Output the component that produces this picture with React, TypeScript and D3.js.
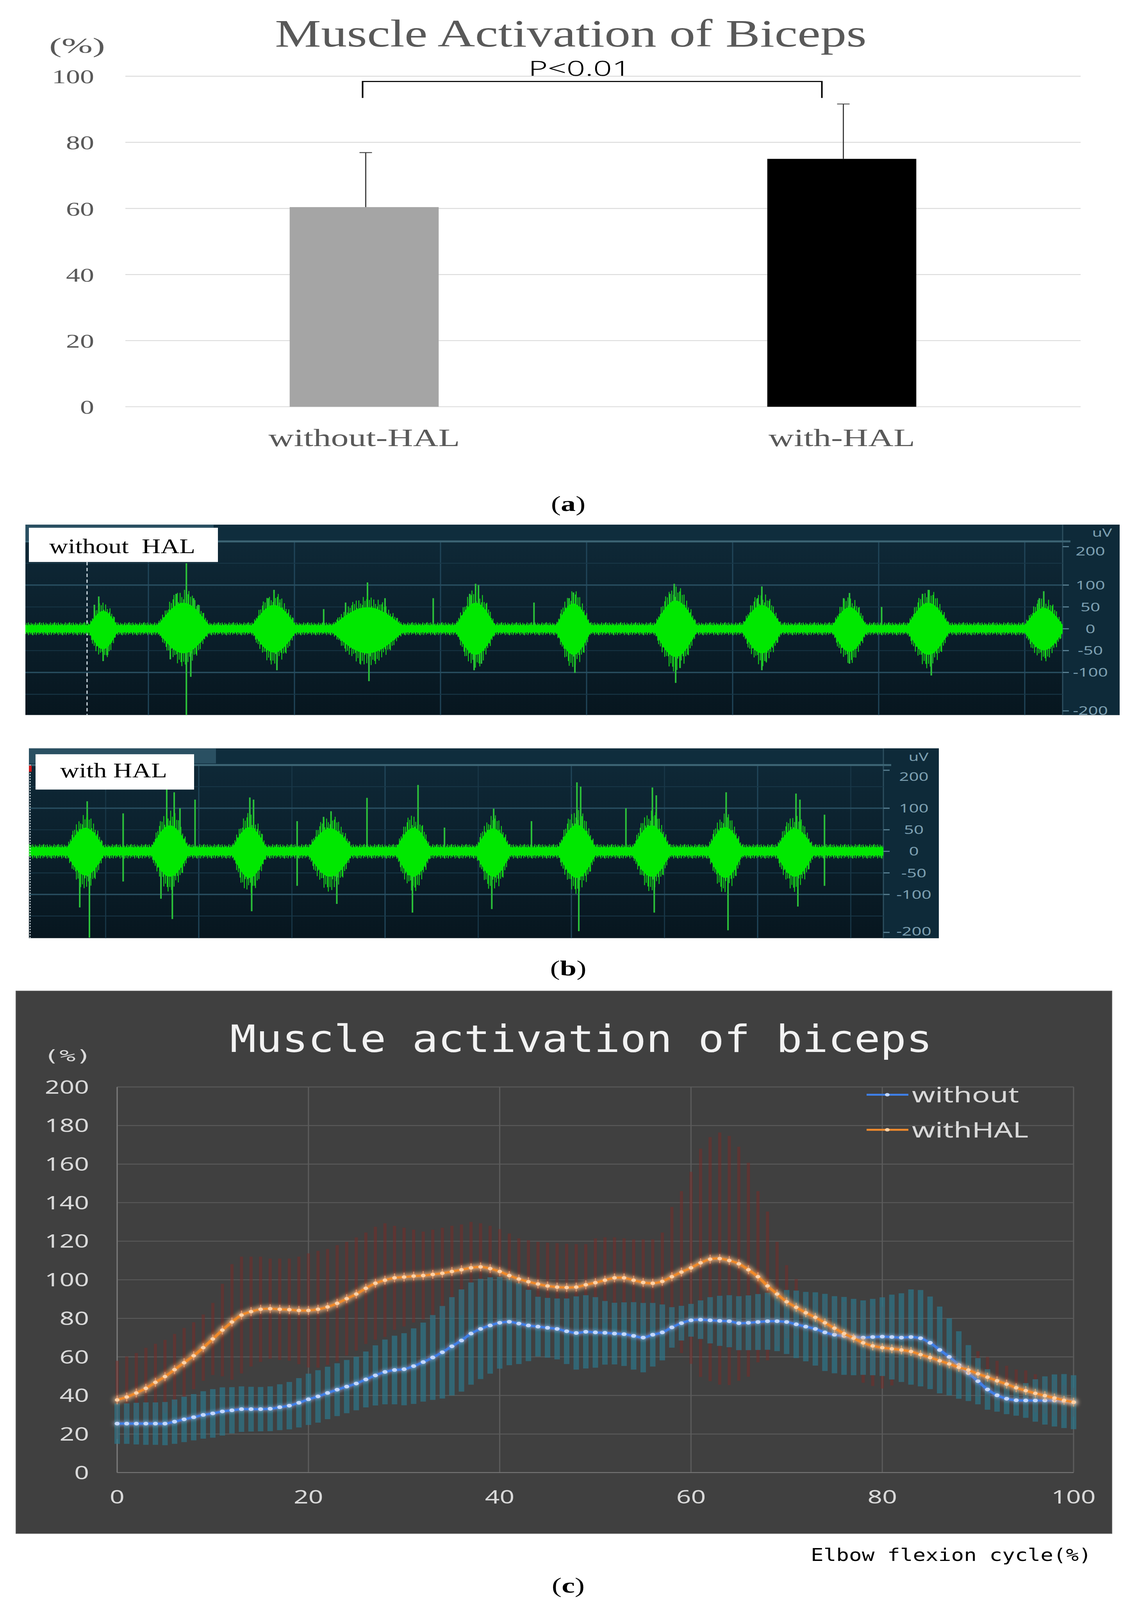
import React from "react";
import * as d3 from "d3";

const W = 2873;
const H = 5751;

// ---------- Panel (a) data ----------
const barCategories = ["without-HAL", "with-HAL"];
const barMeans = [60.4, 75.0];
const barSDs = [16.5, 16.6];
const barColors = ["#a5a5a5", "#000000"];
const barTicks = [0, 20, 40, 60, 80, 100];
const sigLabel = "P<0.01";

// ---------- Panel (b) data (uV, seconds) ----------
const emgTickValues = [200, 100, 50, 0, -50, -100, -200];
const emgGridValues = [150, 100, 50, 0, -50, -100, -150];
const topBursts = [
  { t: 0.69, hw: 0.12, up: 48, dn: -55 },
  { t: 1.24, hw: 0.21, up: 70, dn: -66 },
  { t: 1.86, hw: 0.18, up: 64, dn: -64 },
  { t: 2.5, hw: 0.29, up: 58, dn: -66 },
  { t: 3.24, hw: 0.16, up: 70, dn: -70 },
  { t: 3.91, hw: 0.14, up: 68, dn: -70 },
  { t: 4.61, hw: 0.17, up: 76, dn: -76 },
  { t: 5.2, hw: 0.16, up: 64, dn: -66 },
  { t: 5.8, hw: 0.14, up: 58, dn: -62 },
  { t: 6.34, hw: 0.17, up: 70, dn: -70 },
  { t: 7.13, hw: 0.16, up: 56, dn: -58 },
];
const topSpikes: [number, number][] = [
  [0.63, 55], [0.66, 74], [0.69, -74], [0.72, -60],
  [1.15, -70], [1.19, 80], [1.26, 150], [1.26, -198], [1.29, -110], [1.31, 70], [1.34, 55],
  [1.82, 70], [1.86, 89], [1.88, -95], [1.9, 60],
  [2.2, 45], [2.35, 60], [2.45, -80], [2.5, 106], [2.51, -120], [2.62, 70],
  [2.95, 70], [3.2, 80], [3.24, 103], [3.26, 100], [3.23, -95], [3.28, -80],
  [3.64, 60], [3.88, 70], [3.91, 83], [3.92, -101],
  [4.57, 80], [4.6, 103], [4.61, -124], [4.64, -90],
  [5.17, 70], [5.2, 97], [5.2, -95], [5.23, -75],
  [5.76, 70], [5.8, 82], [5.8, -80],
  [6.02, 50], [6.3, 80], [6.34, 89], [6.36, -107],
  [7.1, 70], [7.13, 86], [7.14, -62],
];
const botBursts = [
  { t: 0.392, hw: 0.12, up: 78, dn: -80 },
  { t: 0.845, hw: 0.12, up: 86, dn: -84 },
  { t: 1.272, hw: 0.11, up: 80, dn: -88 },
  { t: 1.705, hw: 0.14, up: 76, dn: -84 },
  { t: 2.152, hw: 0.11, up: 78, dn: -84 },
  { t: 2.58, hw: 0.11, up: 76, dn: -84 },
  { t: 3.03, hw: 0.12, up: 88, dn: -88 },
  { t: 3.43, hw: 0.12, up: 86, dn: -84 },
  { t: 3.826, hw: 0.11, up: 80, dn: -88 },
  { t: 4.2, hw: 0.12, up: 76, dn: -84 },
];
const botSpikes: [number, number][] = [
  [0.401, 116], [0.413, -200], [0.361, -130], [0.594, 88], [0.594, -70],
  [0.828, 148], [0.868, 137], [0.858, -157], [0.899, 100], [0.797, -110], [0.98, 120],
  [1.274, 125], [1.294, 120], [1.284, -139], [1.528, 70], [1.528, -80],
  [1.67, 80], [1.71, 93], [1.741, -122], [1.903, 124],
  [2.147, -142], [2.177, 154], [2.319, 55],
  [2.573, -134], [2.583, 99], [2.786, 70],
  [3.03, 160], [3.05, 150], [3.04, -185], [3.293, 100],
  [3.435, 148], [3.456, 130], [3.445, -142],
  [3.831, 137], [3.841, -183],
  [4.206, 134], [4.227, 120], [4.216, -128], [4.359, 85], [4.359, -80],
];

// ---------- Panel (c) data ----------
const cyclePct = d3.range(0, 101);
const withoutMean = [
  25.4, 25.4, 25.4, 25.4, 25.4, 25.4, 26.4, 27.6, 28.7, 29.9,
  30.7, 31.7, 32.3, 32.9, 32.9, 32.9, 33.1, 33.9, 34.7, 36.2,
  38.0, 39.5, 41.3, 43.0, 44.6, 46.2, 48.3, 50.4, 52.2, 53.2,
  53.6, 55.2, 57.3, 59.7, 62.4, 65.5, 68.5, 72.1, 74.5, 76.3,
  77.7, 78.2, 77.3, 76.3, 75.7, 75.1, 74.5, 73.3, 72.4, 73.0,
  72.7, 72.5, 72.1, 71.8, 70.9, 70.0, 71.5, 72.7, 75.3, 77.5,
  79.0, 79.3, 79.0, 78.7, 78.5, 77.5, 77.7, 78.1, 78.5, 78.5,
  78.1, 76.9, 75.7, 74.5, 72.7, 71.5, 70.9, 70.3, 70.0, 70.3,
  70.5, 70.3, 70.0, 70.3, 69.7, 67.3, 63.6, 60.0, 55.8, 51.6,
  47.4, 43.1, 40.1, 38.3, 37.5, 37.4, 37.4, 37.4, 37.4, 37.1,
  36.5,
];
const withoutSD = [
  10.5, 10.5, 10.8, 11, 11, 11.2, 11.5, 11.8, 12, 12.3,
  12.6, 12.5, 12, 11.8, 11.6, 11.5, 11.6, 11.9, 12.3, 12.8,
  13.3, 13.6, 13.6, 13.7, 13.8, 13.9, 14.5, 15.6, 16.8, 17.8,
  18.7, 19.6, 20.5, 22, 24, 25.5, 26.5, 26.5, 26, 25,
  23.8, 22.5, 21, 18.5, 15.5, 15.5, 15.8, 17, 19, 19,
  18.3, 16.5, 16, 16.5, 17.5, 18, 16.5, 14.5, 10.5, 9,
  8.5, 10, 12, 13, 13.5, 14, 14.2, 14.5, 14.8, 15.5,
  16.6, 17.5, 18, 19, 20, 20, 20.2, 19.8, 19.3, 19.8,
  20.4, 22, 23, 24.7, 25, 24, 22.5, 20, 17.5, 14.5,
  12, 10.5, 8.5, 8, 8, 9, 11, 12.5, 13.5, 14,
  14,
];
const withHALMean = [
  37.7, 39.2, 41.3, 43.7, 46.8, 49.8, 53.4, 57.0, 60.6, 64.8,
  69.3, 73.9, 78.1, 81.7, 83.5, 84.7, 85.0, 84.7, 84.5, 84.1,
  84.1, 84.7, 85.9, 87.8, 90.2, 92.6, 95.6, 98.2, 99.8, 101.0,
  101.4, 101.9, 102.2, 102.8, 103.4, 104.3, 105.2, 106.2, 106.7, 105.8,
  104.3, 102.2, 100.4, 99.0, 97.8, 96.8, 96.2, 96.0, 96.2, 97.4,
  98.5, 99.8, 101.0, 101.0, 99.8, 98.6, 98.2, 99.2, 101.6, 104.0,
  106.2, 108.8, 110.7, 111.0, 110.0, 108.3, 105.2, 101.6, 96.8, 92.6,
  88.6, 85.7, 82.9, 80.5, 77.7, 74.9, 72.1, 69.7, 67.3, 65.7,
  64.8, 64.2, 63.6, 62.8, 61.2, 59.7, 58.0, 56.4, 54.6, 53.2,
  51.2, 49.5, 47.6, 45.9, 44.0, 42.5, 41.1, 39.9, 38.7, 37.5,
  36.5,
];
const withHALSD = [
  20.3, 21, 20.7, 21, 20, 19, 18.5, 18, 17.4, 17.2,
  18.7, 24, 30, 30.3, 28.5, 27.3, 26, 26.3, 26.5, 27.9,
  29.6, 30.3, 30.1, 30.2, 29.5, 29.4, 28.9, 29.3, 29.5, 27,
  25.6, 24.1, 22.8, 23.2, 23.6, 23.7, 23.5, 23.8, 22.6, 22.2,
  22, 21.8, 21.1, 21.5, 21.9, 22.5, 22.8, 22.7, 22.3, 21.1,
  23, 22.2, 21, 20.5, 21.2, 22.4, 22.8, 25.3, 36.2, 42,
  49.8, 59.2, 63.3, 65.4, 64.6, 60.7, 55.5, 44.4, 38.6, 27.1,
  19, 14.7, 10.1, 11, 12.5, 15.1, 16.5, 17.7, 20.7, 20.8,
  21.2, 19, 16.4, 15, 14.8, 14.5, 15, 12.5, 12.4, 11.5,
  11.8, 10.5, 10.4, 9.5, 9.5, 10.5, 9.9, 9.3, 9.3, 8,
  7.5,
];
const cycleTicks = [0, 20, 40, 60, 80, 100];
const pctTicks = [0, 20, 40, 60, 80, 100, 120, 140, 160, 180, 200];
const seriesNames = ["without", "withHAL"];

const SERIF = "'Liberation Serif', 'Times New Roman', serif";
const MONO = "'DejaVu Sans Mono', monospace";
const SANS = "'Noto Sans', 'Open Sans', sans-serif";

// drawing texture for the dense EMG trace (style only, not data)
const HATCH = [1, 0.6, 0.88, 0.5, 0.96, 0.7, 0.56, 0.92, 0.66, 0.8, 0.46, 0.74, 0.98, 0.54, 0.85, 0.63, 0.9];

function PanelA() {
  const x = d3.scalePoint<string>().domain(barCategories).range([321, 2767]).padding(0.5);
  const step = x.step();
  const bw = step * 0.312;
  const y = d3.scaleLinear().domain([0, 100]).range([1462, 274]);
  const c0 = x(barCategories[0])!;
  const c1 = x(barCategories[1])!;
  const brY = y(100) + 19;
  return (
    <g>
      <text x={704} y={167} fontFamily={SERIF} fontSize={140} fill="#595959" textLength={1515} lengthAdjust="spacingAndGlyphs">
        Muscle Activation of Biceps
      </text>
      <text x={126} y={190} fontFamily={SERIF} fontSize={78} fill="#595959" textLength={143} lengthAdjust="spacingAndGlyphs">
        (%)
      </text>
      {barTicks.map((t) => (
        <g key={t}>
          <line x1={321} x2={2767} y1={y(t)} y2={y(t)} stroke="#d9d9d9" strokeWidth={3} />
          <text x={241} y={y(t)} dy="0.35em" textAnchor="end" fontFamily={SERIF} fontSize={72} fill="#595959">
            {t}
          </text>
        </g>
      ))}
      {barCategories.map((c, i) => (
        <g key={c}>
          <rect x={x(c)! - bw / 2} y={y(barMeans[i])} width={bw} height={y(0) - y(barMeans[i])} fill={barColors[i]} />
          <line x1={x(c)! + 4} x2={x(c)! + 4} y1={y(barMeans[i])} y2={y(barMeans[i] + barSDs[i])} stroke="#404040" strokeWidth={3} />
          <line x1={x(c)! - 12} x2={x(c)! + 20} y1={y(barMeans[i] + barSDs[i])} y2={y(barMeans[i] + barSDs[i])} stroke="#404040" strokeWidth={3} />
          <text x={x(c)!} y={1603} textAnchor="middle" fontFamily={SERIF} fontSize={90} fill="#595959">
            {c}
          </text>
        </g>
      ))}
      <path d={`M${c0 - 4},${brY + 59}V${brY}H${c1 - 51}V${brY + 59}`} fill="none" stroke="#000" strokeWidth={4} />
      <text x={1353} y={272} fontFamily={SANS} fontWeight={300} fontSize={74} fill="#000" textLength={262} lengthAdjust="spacingAndGlyphs">
        {sigLabel}
      </text>
      <text x={1455} y={1836} textAnchor="middle" fontFamily={SERIF} fontSize={76} fill="#000">
        (<tspan fontWeight="bold">a</tspan>)
      </text>
    </g>
  );
}

type Burst = { t: number; hw: number; up: number; dn: number };
type EmgCfg = {
  id: string;
  left: number; right: number; top: number; bottom: number;
  axisX: number; headerY: number; zeroY: number; pxPerUv: number;
  x0: number; pxPerS: number; sigStart: number; sigEnd: number; step: number;
  noise: number; bursts: Burst[]; spikes: [number, number][]; coreK: number; outerK: number;
  box: [number, number, number, number]; labelX: number; labelY: number; labelLen: number; label: string;
  tickX: number; uvX: number; uvY: number; majorT: number[]; minorT: number[]; cursorT?: number; tabRight: number;
  topOff: number; botOff: number;
};

function envelope(bursts: Burst[], noise: number, t: number, k: number): [number, number] {
  let up = noise;
  let dn = -noise;
  for (const b of bursts) {
    const u = Math.abs(t - b.t) / b.hw;
    if (u < 1) {
      const s = Math.pow(1 - u * u, 1.6);
      up = Math.max(up, b.up * s * k);
      dn = Math.min(dn, b.dn * s * k);
    }
  }
  return [up, dn];
}

function EmgPanel({ c }: { c: EmgCfg }) {
  const xs = d3.scaleLinear().domain([0, 1]).range([c.x0, c.x0 + c.pxPerS]);
  const ys = d3.scaleLinear().domain([-200, 200]).range([c.zeroY + 200 * c.pxPerUv, c.zeroY - 200 * c.pxPerUv]);
  const samples = d3.range(c.sigStart, c.sigEnd, c.step);
  let hatch = "";
  samples.forEach((t, i) => {
    const [u, d] = envelope(c.bursts, c.noise, t, c.outerK);
    const fu = HATCH[i % HATCH.length];
    const fd = HATCH[(i + 8) % HATCH.length];
    hatch += `M${xs(t).toFixed(1)},${ys(d * fd).toFixed(1)}V${ys(u * fu).toFixed(1)}`;
  });
  const core =
    d3
      .area<number>()
      .x((t) => xs(t))
      .y0((t) => ys(envelope(c.bursts, c.noise * 0.55, t, c.coreK)[1]))
      .y1((t) => ys(envelope(c.bursts, c.noise * 0.55, t, c.coreK)[0]))(samples) || "";
  const sw = c.step * c.pxPerS * 1.05;
  return (
    <g>
      <defs>
        <clipPath id={`clip-${c.id}`}>
          <rect x={c.left} y={c.headerY} width={c.axisX - c.left} height={c.bottom - c.headerY} />
        </clipPath>
        <linearGradient id={`bg-${c.id}`} x1="0" y1="0" x2="0" y2="1">
          <stop offset="0" stopColor="#0f2a39" />
          <stop offset="1" stopColor="#07161f" />
        </linearGradient>
      </defs>
      <rect x={c.left} y={c.top} width={c.right - c.left} height={c.bottom - c.top} fill={`url(#bg-${c.id})`} />
      <rect x={c.left} y={c.top} width={c.right - c.left} height={c.headerY - c.top} fill="#0f2d3d" />
      <rect x={c.left} y={c.top} width={c.tabRight - c.left} height={c.headerY - c.top - 4} fill="#2a5062" />
      <rect x={c.axisX} y={c.top} width={c.right - c.axisX} height={c.bottom - c.top} fill="#0e2a39" />
      <line x1={c.axisX} x2={c.axisX} y1={c.top} y2={c.bottom} stroke="#2c4e5f" strokeWidth={3} />
      {c.minorT.map((t) => (
        <line key={"m" + t} x1={xs(t)} x2={xs(t)} y1={c.headerY} y2={c.bottom} stroke="#173545" strokeWidth={3} />
      ))}
      {c.majorT.map((t) => (
        <line key={"M" + t} x1={xs(t)} x2={xs(t)} y1={c.headerY} y2={c.bottom} stroke="#21465a" strokeWidth={3} />
      ))}
      {emgGridValues.map((v) => (
        <line
          key={v}
          x1={c.left}
          x2={c.axisX}
          y1={ys(v)}
          y2={ys(v)}
          stroke={Math.abs(v) === 100 ? "#284e60" : "#183747"}
          strokeWidth={Math.abs(v) === 100 ? 5 : 3}
        />
      ))}
      <line x1={c.left} x2={c.axisX + 20} y1={ys(200)} y2={ys(200)} stroke="#3c6474" strokeWidth={7} />
      {c.cursorT !== undefined && (
        <line x1={xs(c.cursorT)} x2={xs(c.cursorT)} y1={c.box[1] + c.box[3]} y2={c.bottom} stroke="#d0dde4" strokeWidth={3} strokeDasharray="12 9" />
      )}
      <g clipPath={`url(#clip-${c.id})`}>
        {c.spikes.map(([t, a], i) => (
          <line key={i} x1={xs(t)} x2={xs(t)} y1={ys(0)} y2={ys(a)} stroke="#2cc23a" strokeWidth={4} />
        ))}
        <path d={hatch} fill="none" stroke="#16cf1a" strokeWidth={sw} />
        <path d={core} fill="#00e800" />
      </g>
      {emgTickValues.map((v) => (
        <g key={v}>
          <line
            x1={c.axisX}
            x2={c.axisX + 16}
            y1={ys(v === 200 ? 188 : v === -200 ? -188 : v)}
            y2={ys(v === 200 ? 188 : v === -200 ? -188 : v)}
            stroke="#5b8294"
            strokeWidth={4}
          />
          <text
            x={c.tickX}
            y={ys(v) + (v === 200 ? c.topOff : v === -200 ? c.botOff : 0)}
            dy="0.35em"
            textAnchor="middle"
            fontFamily={SANS}
            fontSize={44}
            fill="#7c9fb0"
          >
            {v}
          </text>
        </g>
      ))}
      <text x={c.uvX} y={c.uvY} dy="0.35em" textAnchor="middle" fontFamily={SANS} fontSize={42} fill="#7c9fb0">
        uV
      </text>
      <rect x={c.box[0]} y={c.box[1]} width={c.box[2]} height={c.box[3]} fill="#ffffff" />
      <text
        x={c.labelX}
        y={c.labelY}
        fontFamily={SERIF}
        fontSize={74}
        fill="#000"
        textLength={c.labelLen}
        lengthAdjust="spacingAndGlyphs"
        style={{ whiteSpace: "pre" }}
      >
        {c.label}
      </text>
    </g>
  );
}

function PanelB() {
  const top: EmgCfg = {
    id: "top", left: 65, right: 2867, top: 1886, bottom: 2570, axisX: 2721, headerY: 1946, zeroY: 2260, pxPerUv: 1.57,
    x0: 6, pxPerS: 374, sigStart: 0.155, sigEnd: 7.26, step: 0.006, noise: 15, bursts: topBursts, spikes: topSpikes,
    coreK: 0.85, outerK: 1.3,
    box: [74, 1897, 484, 123], labelX: 126, labelY: 1988, labelLen: 374, label: "without  HAL",
    tickX: 2792, uvX: 2822, uvY: 1914, majorT: [1, 2, 3, 4, 5, 6, 7], minorT: [], cursorT: 0.58, tabRight: 547,
    topOff: 35, botOff: -20,
  };
  const bot: EmgCfg = {
    id: "bot", left: 74, right: 2404, top: 2690, bottom: 3372, axisX: 2262, headerY: 2748, zeroY: 3060, pxPerUv: 1.55,
    x0: 32, pxPerS: 477, sigStart: 0.09, sigEnd: 4.68, step: 0.0046, noise: 17, bursts: botBursts, spikes: botSpikes,
    coreK: 0.7, outerK: 1.12,
    box: [91, 2711, 406, 127], labelX: 154, labelY: 2794, labelLen: 274, label: "with HAL",
    tickX: 2340, uvX: 2352, uvY: 2720, majorT: [1, 2, 3, 4], minorT: [0.5, 1.5, 2.5, 3.5, 4.5], tabRight: 553,
    topOff: 42, botOff: -22,
  };
  return (
    <g>
      <EmgPanel c={top} />
      <EmgPanel c={bot} />
      <line x1={77} x2={77} y1={2748} y2={3372} stroke="#c8d4da" strokeWidth={3} strokeDasharray="5 5" />
      <rect x={74} y={2752} width={7} height={22} fill="#d01818" />
      <text x={1455} y={3506} textAnchor="middle" fontFamily={SERIF} fontSize={76} fill="#000">
        (<tspan fontWeight="bold">b</tspan>)
      </text>
    </g>
  );
}

function PanelC() {
  const x = d3.scaleLinear().domain([0, 100]).range([300, 2749]);
  const y = d3.scaleLinear().domain([0, 200]).range([5293, 3907]);
  const line = d3
    .line<number>()
    .x((_, i) => x(cyclePct[i]))
    .y((d) => y(d))
    .curve(d3.curveCatmullRom);
  return (
    <g>
      <defs>
        <filter id="glowB" x="-10%" y="-30%" width="120%" height="160%">
          <feGaussianBlur in="SourceGraphic" stdDeviation="7" result="b" />
          <feMerge>
            <feMergeNode in="b" />
            <feMergeNode in="SourceGraphic" />
          </feMerge>
        </filter>
        <filter id="glowO" x="-10%" y="-30%" width="120%" height="160%">
          <feGaussianBlur in="SourceGraphic" stdDeviation="8" result="b" />
          <feMerge>
            <feMergeNode in="b" />
            <feMergeNode in="b" />
            <feMergeNode in="SourceGraphic" />
          </feMerge>
        </filter>
      </defs>
      <rect x={41} y={3562} width={2806} height={1950} fill="#404040" stroke="#5a5a5a" strokeWidth={2} />
      <text x={589} y={3781} fontFamily={MONO} fontSize={134} fill="#f2f2f2" textLength={1798} lengthAdjust="spacingAndGlyphs">
        Muscle activation of biceps
      </text>
      <text x={111} y={3794} dy="0.35em" fontFamily={MONO} fontSize={58} fill="#d9d9d9" textLength={124} lengthAdjust="spacingAndGlyphs">
        (%)
      </text>
      {pctTicks.map((t) => (
        <g key={"y" + t}>
          <line x1={300} x2={2749} y1={y(t)} y2={y(t)} stroke="#5c5c5c" strokeWidth={3} />
          <text x={228} y={y(t)} dy="0.36em" textAnchor="end" fontFamily={SANS} fontSize={66} fill="#d9d9d9">
            {t}
          </text>
        </g>
      ))}
      {cycleTicks.map((t) => (
        <g key={"x" + t}>
          <line x1={x(t)} x2={x(t)} y1={y(0)} y2={y(200)} stroke="#5c5c5c" strokeWidth={3} />
          <text x={x(t)} y={5381} dy="0.36em" textAnchor="middle" fontFamily={SANS} fontSize={66} fill="#d9d9d9">
            {t}
          </text>
        </g>
      ))}
      <line x1={300} x2={2749} y1={y(0)} y2={y(0)} stroke="#7a7a7a" strokeWidth={3} />
      <line x1={300} x2={300} y1={y(0)} y2={y(200)} stroke="#7a7a7a" strokeWidth={3} />
      {withHALMean.map((m, i) => (
        <rect
          key={"rs" + i}
          x={x(cyclePct[i]) - 4}
          y={y(m + withHALSD[i])}
          width={8}
          height={y(m - withHALSD[i]) - y(m + withHALSD[i])}
          fill="#7a2a26"
          opacity={0.5}
        />
      ))}
      {withoutMean.map((m, i) => (
        <rect
          key={"bs" + i}
          x={x(cyclePct[i]) - 7}
          y={y(m + withoutSD[i])}
          width={14}
          height={y(m - withoutSD[i]) - y(m + withoutSD[i])}
          fill="#2a7a8e"
          opacity={0.66}
        />
      ))}
      <g filter="url(#glowB)">
        <path d={line(withoutMean) || ""} fill="none" stroke="#3f7fe6" strokeWidth={8} />
        {withoutMean.map((m, i) => (
          <circle key={"bm" + i} cx={x(cyclePct[i])} cy={y(m)} r={6.5} fill="#c3d8ff" />
        ))}
      </g>
      <g filter="url(#glowO)">
        <path d={line(withHALMean) || ""} fill="none" stroke="#f08a2c" strokeWidth={8} />
        {withHALMean.map((m, i) => (
          <line key={"ot" + i} x1={x(cyclePct[i])} x2={x(cyclePct[i])} y1={y(m) - 16} y2={y(m) + 16} stroke="#f6b070" strokeWidth={2.5} opacity={0.7} />
        ))}
        {withHALMean.map((m, i) => (
          <circle key={"om" + i} cx={x(cyclePct[i])} cy={y(m)} r={6} fill="#ffd2a6" />
        ))}
      </g>
      {seriesNames.map((s, i) => {
        const ly = 3935 + i * 126;
        const col = i === 0 ? "#3f7fe6" : "#f08a2c";
        const mk = i === 0 ? "#c3d8ff" : "#ffd2a6";
        return (
          <g key={s}>
            <line x1={2219} x2={2326} y1={ly} y2={ly} stroke={col} strokeWidth={7} />
            <circle cx={2272} cy={ly} r={6} fill={mk} />
            <text x={2335} y={ly} dy="0.36em" fontFamily={SANS} fontSize={76} fill="#d9d9d9">
              {s}
            </text>
          </g>
        );
      })}
      <text x={2076} y={5588} dy="0.36em" fontFamily={MONO} fontSize={62} fill="#000" textLength={719} lengthAdjust="spacingAndGlyphs">
        Elbow flexion cycle(%)
      </text>
      <text x={1455} y={5724} textAnchor="middle" fontFamily={SERIF} fontSize={76} fill="#000">
        (<tspan fontWeight="bold">c</tspan>)
      </text>
    </g>
  );
}

export default function App() {
  return (
    <svg
      viewBox={`0 0 ${W} ${H}`}
      preserveAspectRatio="none"
      style={{ position: "fixed", left: 0, top: 0, width: "100vw", height: "100vh", display: "block", background: "#fff" }}
    >
      <rect x={0} y={0} width={W} height={H} fill="#ffffff" />
      <PanelA />
      <PanelB />
      <PanelC />
    </svg>
  );
}
